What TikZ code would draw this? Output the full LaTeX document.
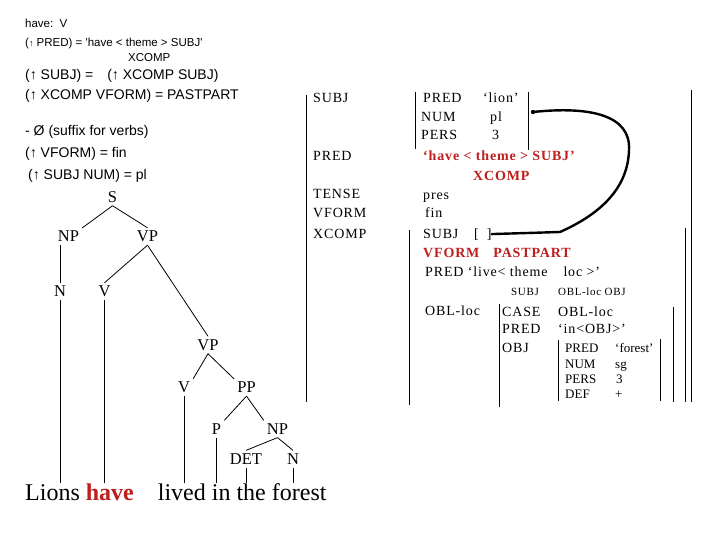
\documentclass[tikz,border=0pt]{standalone}
\usepackage{xcolor}
\usepackage{fontspec}
\setmainfont{Liberation Serif}
\setsansfont{Liberation Sans}
\newfontfamily\fsfont{Liberation Serif}[LetterSpace=6]
\usepackage{tikz}
\usetikzlibrary{positioning,calc}
\definecolor{lfgink}{HTML}{000000}
\definecolor{lfgred}{HTML}{BC1F1E}
\tikzset{
  lex/.style      = {anchor=base west, inner sep=0pt, font=\sffamily\fontsize{11.5}{13}\selectfont},
  lexbig/.style   = {lex, font=\sffamily\fontsize{14}{16}\selectfont},
  cat/.style      = {inner sep=3pt, font=\fontsize{16.5}{18}\selectfont},
  feat/.style     = {anchor=base west, inner sep=0pt, font=\fsfont\fontsize{14}{16}\selectfont},
  featred/.style  = {feat, text=lfgred, font=\fsfont\bfseries\fontsize{14}{16}\selectfont},
  featin/.style   = {feat, font=\rmfamily\fontsize{13}{15}\selectfont},
  featsmall/.style= {feat, font=\fsfont\fontsize{11}{13}\selectfont},
  branch/.style   = {line width=0.8pt, draw=lfgink},
  fbrack/.style   = {line width=1pt, draw=lfgink},
  link/.style     = {line width=2.4pt, draw=lfgink, line cap=round},
}

\begin{document}
\begin{tikzpicture}[x=1pt, y=-1pt]
\useasboundingbox[fill=white] (0,0) rectangle (720,540);

% lexical entry
\node[lex] (lexhave) at (25,28) {have:\ \ V};
\node[lex] (lexpred) at (25,47) {({\fontsize{9}{9}\selectfont ↑} PRED) = \textquotesingle have < theme > SUBJ\textquotesingle};
\node[lex] (lexxc) at (128,62) {XCOMP};
\node[lexbig] (lexsubj) at (25,80) {(↑ SUBJ) =\hspace{14pt}(↑ XCOMP SUBJ)};
\node[lexbig] (lexvform) at (25,100) {(↑ XCOMP VFORM) = PASTPART};
\node[lexbig] (lexsuf) at (25,136) {- Ø (suffix for verbs)};
\node[lexbig] (lexfin) at (25,158) {(↑ VFORM) = fin};
\node[lexbig] (lexnum) at (28,180) {(↑ SUBJ NUM) = pl};

% c-structure
\node[cat] (s) at (112.5,197) {S};
\node[cat] (np) at (68.5,236.5) {NP};
\node[cat] (vp) at (147.5,236.5) {VP};
\node[cat] (n) at (60,291.5) {N};
\node[cat] (v) at (104.5,291.5) {V};
\node[cat] (vpx) at (208,345) {VP};
\node[cat] (vx) at (184,387.5) {V};
\node[cat] (pp) at (246.5,387.5) {PP};
\node[cat] (p) at (216.5,429) {P};
\node[cat] (npx) at (277.5,429) {NP};
\node[cat] (det) at (246,459) {DET};
\node[cat] (nx) at (293,459) {N};
\node[anchor=base west, inner sep=0pt, font=\fontsize{24}{28}\selectfont] (words) at (25,500)
  {Lions {\color{lfgred}\bfseries have}\hspace{24pt}lived in the forest};

\draw[branch] (s.south) -- (np.north east);
\draw[branch] (s.south) -- (vp.north);
\draw[branch] (n.north |- np.south) -- (n.north);
\draw[branch] (vp.south) -- (v.north);
\draw[branch] (vp.south) -- (vpx.north);
\draw[branch] (vpx.south) -- (vx.north east);
\draw[branch] (vpx.south) -- (pp.north west);
\draw[branch] (pp.south) -- (p.north east);
\draw[branch] (pp.south) -- (npx.north west);
\draw[branch] (npx.south) -- (det.north);
\draw[branch] (npx.south) -- (nx.north);
\draw[branch] (n.south) -- (n.south |- words.north);
\draw[branch] (v.south) -- (v.south |- words.north);
\draw[branch] (vx.south) -- (vx.south |- words.north);
\draw[branch] (p.south) -- (p.south |- words.north);
\draw[branch] (det.south) -- (det.south |- words.north);
\draw[branch] (nx.south) -- (nx.south |- words.north);

% f-structure
\node[feat] (fsubj) at (313,103) {SUBJ};
\node[feat] (fpred) at (313,161) {PRED};
\node[feat] (ftense) at (313,199) {TENSE};
\node[feat] (fvform) at (313,218) {VFORM};
\node[feat] (fxcomp) at (313,238) {XCOMP};

\node[feat] (spred) at (423,103) {PRED};
\node[feat] (slion) at (483,103) {‘lion’};
\node[feat] (snum) at (421,122) {NUM};
\node[feat] (spl) at (490,122) {pl};
\node[feat] (spers) at (421,140) {PERS};
\node[feat] (sthree) at (492,140) {3};

\node[featred] (havepred) at (423,161) {‘have < theme > SUBJ’};
\node[featred] (havexc) at (473,181) {XCOMP};
\node[feat] (pres) at (423,200) {pres};
\node[feat] (fin) at (425,218) {fin};

\node[feat] (xsubj) at (423,238) {SUBJ};
\node[feat] (xempty) at (474,238) {[\hspace{8pt}]};
\node[featred] (xvform) at (423,258) {VFORM\hspace{14pt}PASTPART};
\node[feat] (xpred) at (425,276) {PRED ‘live< theme\hspace{16pt}loc >’};
\node[featsmall] (gfsubj) at (511,295) {SUBJ};
\node[featsmall] (gfobl) at (558,295) {OBL-loc OBJ};
\node[feat] (xobl) at (425,315) {OBL-loc};

\node[feat] (ocase) at (502,316) {CASE};
\node[feat] (ocaseval) at (558,316) {OBL-loc};
\node[feat] (opred) at (502,333) {PRED};
\node[feat] (oin) at (558,333) {‘in<OBJ>’};
\node[feat] (oobj) at (502,352) {OBJ};

\node[featin] (dpred) at (565,352) {PRED};
\node[featin] (dforest) at (615,352) {‘forest’};
\node[featin] (dnum) at (565,368) {NUM};
\node[featin] (dsg) at (615,368) {sg};
\node[featin] (dpers) at (565,383) {PERS};
\node[featin] (dthree) at (616,383) {3};
\node[featin] (ddef) at (565,398) {DEF};
\node[featin] (dplus) at (615,398) {+};

% brackets
\draw[fbrack] (306,95) -- (306,402);
\draw[fbrack] (691,90) -- (691,402);
\draw[fbrack] (415,92) -- (415,149);
\draw[fbrack] (528,92) -- (528,150);
\draw[fbrack] (409,230) -- (409,405);
\draw[fbrack] (685,228) -- (685,402);
\draw[fbrack] (499,304) -- (499,407);
\draw[fbrack] (673,307) -- (673,402);
\draw[fbrack] (558,340) -- (558,401);
\draw[fbrack] (660,339) -- (660,401);

% structure sharing
\coordinate (subjtag) at (533,112);
\fill[lfgink] (subjtag) circle (2.2pt);
\draw[link] (subjtag) .. controls (590,106) and (631,115) .. (629,150)
  .. controls (628,185) and (605,212) .. (560,232) -- (xempty.east);

\end{tikzpicture}
\end{document}
